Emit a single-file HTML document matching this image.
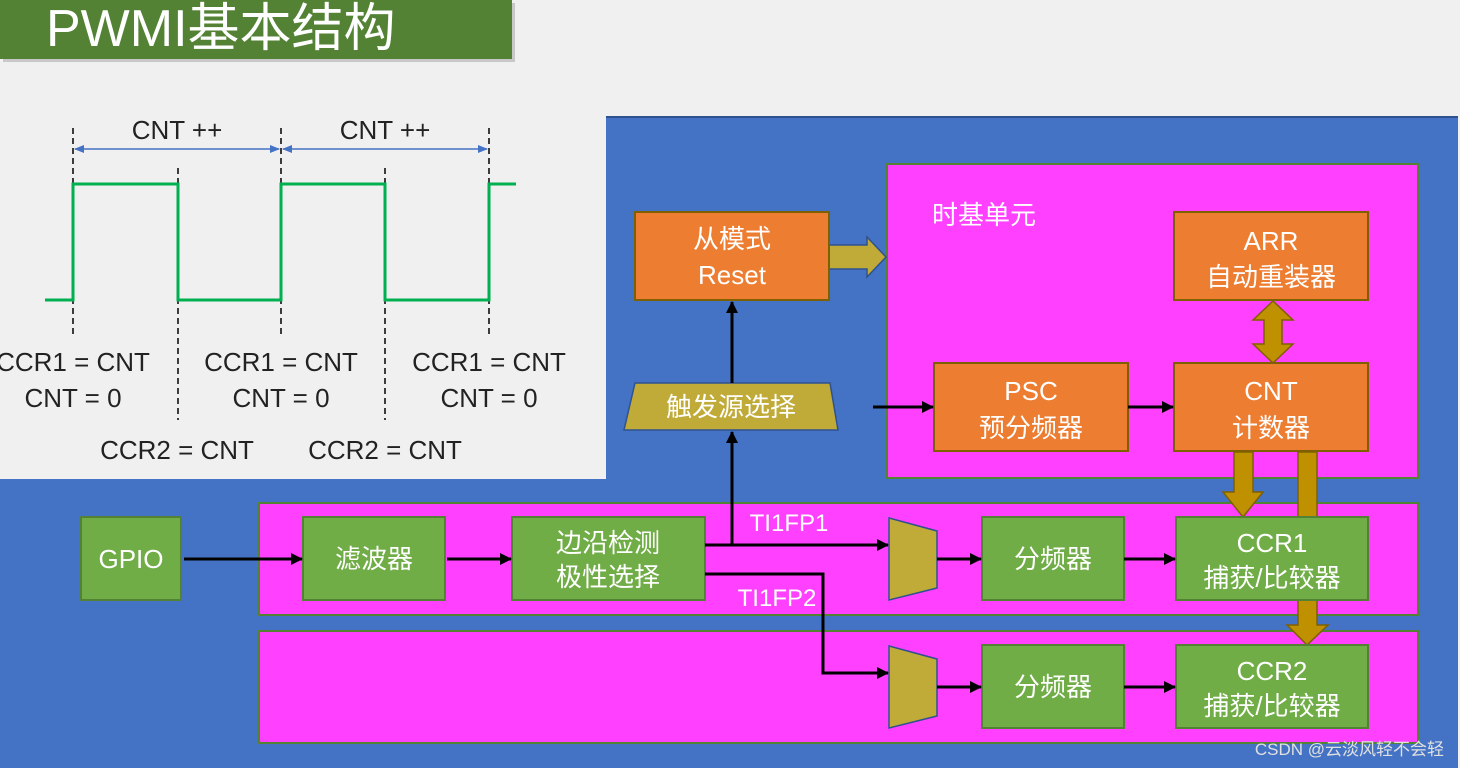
<!DOCTYPE html>
<html><head><meta charset="utf-8"><style>
html,body{margin:0;padding:0;background:#f0f0f0;}
svg{display:block;}
text{font-family:"Liberation Sans","Noto Sans CJK SC",sans-serif;}
</style></head><body>
<svg width="1460" height="768" viewBox="0 0 1460 768" xmlns="http://www.w3.org/2000/svg">
<defs>
<marker id="a" markerWidth="12" markerHeight="12" refX="11" refY="6" orient="auto" markerUnits="userSpaceOnUse" viewBox="0 0 12 12"><path d="M0,0 L12,6 L0,12 z" fill="#000"/></marker>
<marker id="ab" markerWidth="10" markerHeight="10" refX="9" refY="5" orient="auto" markerUnits="userSpaceOnUse"><path d="M0,1 L10,5 L0,9 z" fill="#4472c4"/></marker>
<marker id="as" markerWidth="10" markerHeight="10" refX="1" refY="5" orient="auto" markerUnits="userSpaceOnUse"><path d="M10,1 L0,5 L10,9 z" fill="#4472c4"/></marker>
</defs>
<rect width="1460" height="768" fill="#f0f0f0"/>
<rect x="3" y="3" width="512" height="59" fill="#c8c8c8"/>
<rect x="0" y="0" width="512" height="59" fill="#548235"/>
<text x="46" y="46" font-size="52" fill="#fff">PWMI基本结构</text>
<path d="M606,117 H1458 V768 H0 V479 H606 Z" fill="#4472c4"/>
<line x1="606" y1="117" x2="1458" y2="117" stroke="#2f528f" stroke-width="2"/>
<g stroke="#000" stroke-width="1.5" stroke-dasharray="6,4">
<line x1="73" y1="128" x2="73" y2="335"/><line x1="281" y1="128" x2="281" y2="335"/><line x1="489" y1="128" x2="489" y2="335"/>
<line x1="178" y1="168" x2="178" y2="420"/><line x1="385" y1="168" x2="385" y2="420"/>
</g>
<polyline points="45,300 73,300 73,184 178,184 178,300 281,300 281,184 385,184 385,300 489,300 489,184 516,184" fill="none" stroke="#00b050" stroke-width="3"/>
<line x1="75" y1="149" x2="279" y2="149" stroke="#4472c4" stroke-width="1.5" marker-end="url(#ab)" marker-start="url(#as)"/>
<line x1="283" y1="149" x2="487" y2="149" stroke="#4472c4" stroke-width="1.5" marker-end="url(#ab)" marker-start="url(#as)"/>
<g font-size="26" fill="#222" text-anchor="middle">
<text x="177" y="139">CNT ++</text><text x="385" y="139">CNT ++</text>
<text x="73" y="371">CCR1 = CNT</text><text x="281" y="371">CCR1 = CNT</text><text x="489" y="371">CCR1 = CNT</text>
<text x="73" y="407">CNT = 0</text><text x="281" y="407">CNT = 0</text><text x="489" y="407">CNT = 0</text>
<text x="177" y="459">CCR2 = CNT</text><text x="385" y="459">CCR2 = CNT</text>
</g>
<g fill="#ff40ff" stroke="#548235" stroke-width="2">
<rect x="887" y="164" width="531" height="314"/>
<rect x="259" y="503" width="1159" height="112"/>
<rect x="259" y="631" width="1159" height="112"/>
</g>
<text x="932" y="224" font-size="26" fill="#fff">时基单元</text>
<path d="M829,245 H867 V237 L886,257 L867,277 V269 H829 Z" fill="#c0ab38" stroke="#2f528f" stroke-width="1.5"/>
<path d="M1273,301 L1293,320 H1282 V344 H1293 L1273,363 L1253,344 H1264 V320 H1253 Z" fill="#bf9000" stroke="#7f6000" stroke-width="1.5"/>
<path d="M1234,452 H1253 V492 H1263 L1243,517 L1223,492 H1234 Z" fill="#bf9000" stroke="#7f6000" stroke-width="1.5"/>
<rect x="1298" y="452" width="19" height="66" fill="#bf9000" stroke="#7f6000" stroke-width="1.5"/>
<path d="M1298,600 H1317 V625 H1328 L1307,645 L1287,625 H1298 Z" fill="#bf9000" stroke="#7f6000" stroke-width="1.5"/>
<g fill="#ed7d31" stroke="#7f6000" stroke-width="2">
<rect x="635" y="212" width="194" height="88"/>
<rect x="1174" y="212" width="194" height="88"/>
<rect x="934" y="363" width="194" height="88"/>
<rect x="1174" y="363" width="194" height="88"/>
</g>
<g fill="#70ad47" stroke="#548235" stroke-width="2">
<rect x="81" y="517" width="100" height="83"/>
<rect x="303" y="517" width="142" height="83"/>
<rect x="512" y="517" width="193" height="83"/>
<rect x="982" y="517" width="142" height="83"/>
<rect x="1176" y="517" width="192" height="83"/>
<rect x="982" y="645" width="142" height="83"/>
<rect x="1176" y="645" width="192" height="83"/>
</g>
<path d="M635,383 H830 L838,430 H624 Z" fill="#c0ab38" stroke="#2f528f" stroke-width="1.5"/>
<path d="M889,518 L937,531 V588 L889,600 Z" fill="#c0ab38" stroke="#2f528f" stroke-width="1.5"/>
<path d="M889,646 L937,659 V716 L889,728 Z" fill="#c0ab38" stroke="#2f528f" stroke-width="1.5"/>
<g stroke="#000" stroke-width="3" fill="none">
<line x1="184" y1="559" x2="302" y2="559" marker-end="url(#a)"/>
<line x1="447" y1="559" x2="511" y2="559" marker-end="url(#a)"/>
<line x1="705" y1="545" x2="888" y2="545" marker-end="url(#a)"/>
<line x1="732" y1="545" x2="732" y2="432" marker-end="url(#a)"/>
<line x1="732" y1="383" x2="732" y2="302" marker-end="url(#a)"/>
<polyline points="705,574 823,574 823,673 888,673" marker-end="url(#a)"/>
<line x1="873" y1="407" x2="933" y2="407" marker-end="url(#a)"/>
<line x1="1128" y1="407" x2="1173" y2="407" marker-end="url(#a)"/>
<line x1="937" y1="559" x2="981" y2="559" marker-end="url(#a)"/>
<line x1="1124" y1="559" x2="1175" y2="559" marker-end="url(#a)"/>
<line x1="937" y1="687" x2="981" y2="687" marker-end="url(#a)"/>
<line x1="1124" y1="687" x2="1175" y2="687" marker-end="url(#a)"/>
</g>
<g font-size="26" fill="#fff" text-anchor="middle">
<text x="732" y="248">从模式</text><text x="732" y="284">Reset</text>
<text x="1271" y="250">ARR</text><text x="1271" y="286">自动重装器</text>
<text x="1031" y="400">PSC</text><text x="1031" y="437">预分频器</text>
<text x="1271" y="400">CNT</text><text x="1271" y="437">计数器</text>
<text x="731" y="416">触发源选择</text>
<text x="131" y="568">GPIO</text>
<text x="374" y="568">滤波器</text>
<text x="608" y="552">边沿检测</text><text x="608" y="586">极性选择</text>
<text x="1053" y="568">分频器</text>
<text x="1272" y="552">CCR1</text><text x="1272" y="587">捕获/比较器</text>
<text x="1053" y="696">分频器</text>
<text x="1272" y="680">CCR2</text><text x="1272" y="715">捕获/比较器</text>
<text x="789" y="531" font-size="24">TI1FP1</text>
<text x="777" y="606" font-size="24">TI1FP2</text>
</g>
<text x="1444" y="755" font-size="17" fill="#e0e0e0" text-anchor="end">CSDN @云淡风轻不会轻</text>
</svg>
</body></html>
